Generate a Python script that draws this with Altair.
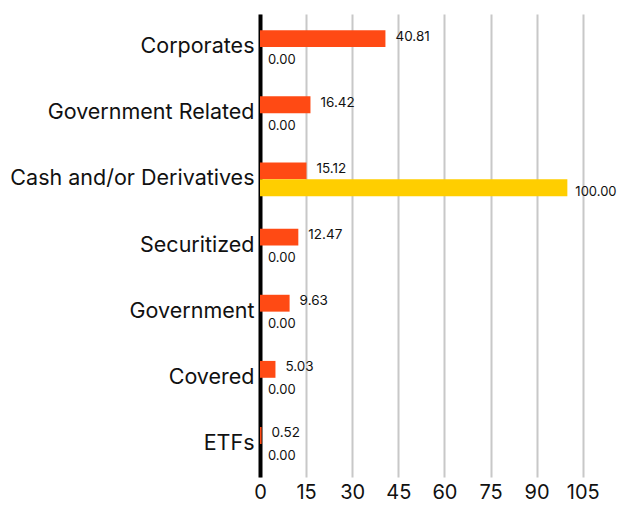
import altair as alt
import pandas as pd

categories = ["Corporates", "Government Related", "Cash and/or Derivatives",
              "Securitized", "Government", "Covered", "ETFs"]
fund = [40.81, 16.42, 15.12, 12.47, 9.63, 5.03, 0.52]
benchmark = [0.00, 0.00, 100.00, 0.00, 0.00, 0.00, 0.00]
series = ["Fund", "Benchmark"]
colors = ["#FF4A14", "#FFCE00"]
x_ticks = [0, 15, 30, 45, 60, 75, 90, 105]

rows = []
for c, f, b in zip(categories, fund, benchmark):
    rows.append({"cat": c, "series": "Fund", "value": f, "label": f"{f:.2f}"})
    rows.append({"cat": c, "series": "Benchmark", "value": b, "label": f"{b:.2f}"})
df = pd.DataFrame(rows)

FONT = "Inter"

y_enc = alt.Y("cat:N", sort=categories, title=None,
              scale=alt.Scale(paddingInner=0.49, paddingOuter=0.245),
              axis=alt.Axis(labelFontSize=21.5, labelFont=FONT, labelColor="#111",
                            labelPadding=6, labelLimit=400, ticks=False,
                            domain=True, domainColor="#000", domainWidth=4,
                            grid=False))
x_enc = alt.X("value:Q", title=None,
              scale=alt.Scale(domain=[0, 115.5], nice=False, zero=True),
              axis=alt.Axis(values=x_ticks, labelFontSize=20, labelFont=FONT,
                            labelColor="#111", domain=False, ticks=False,
                            grid=True, gridColor="#c8c8c8", gridWidth=2,
                            labelPadding=5, labelFlush=False))
yoff = alt.YOffset("series:N", sort=series)

bars = alt.Chart(df).mark_bar().encode(
    y=y_enc, x=x_enc, yOffset=yoff,
    color=alt.Color("series:N", sort=series,
                    scale=alt.Scale(domain=series, range=colors), legend=None),
)

text_fund = alt.Chart(df).transform_filter(alt.datum.series == "Fund").mark_text(
    align="left", dx=10, dy=-2, fontSize=13.5, font=FONT, color="#111").encode(
    y=alt.Y("cat:N", sort=categories), x="value:Q", yOffset=yoff,
    text="label:N",
)
text_bench = alt.Chart(df).transform_filter(alt.datum.series == "Benchmark").mark_text(
    align="left", dx=8, dy=4, fontSize=13, font=FONT, color="#111").encode(
    y=alt.Y("cat:N", sort=categories), x="value:Q", yOffset=yoff,
    text="label:N",
)

chart = alt.layer(bars, text_fund, text_bench).properties(
    width=610, height=494,
    padding={"left": 1, "top": 6, "right": 3, "bottom": 0},
    autosize=alt.AutoSizeParams(type="fit", contains="padding"),
).configure_view(stroke=None).configure_axisY(zindex=2)

chart.save("out.html", embed_options={"renderer": "svg", "actions": False})
